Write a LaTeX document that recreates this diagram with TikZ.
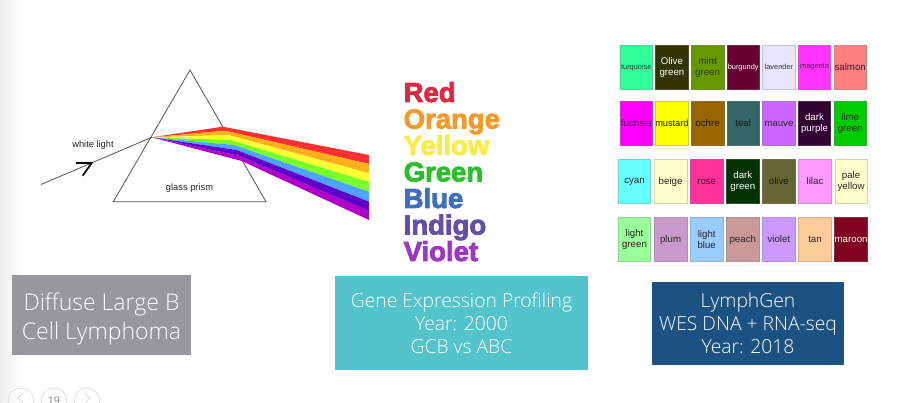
\documentclass[tikz,border=0pt]{standalone}
\usepackage{fontspec}
\setmainfont{Liberation Sans}
\newfontfamily\boxfont{Open Sans Light}
\newfontfamily\headfont[FakeBold=3]{Liberation Sans Bold}
\usetikzlibrary{calc}
\definecolor{gGray}{HTML}{98979B}
\definecolor{gTeal}{HTML}{53C4CC}
\definecolor{gBlue}{HTML}{1C5282}
\definecolor{pageLine}{HTML}{DDDDDD}
\tikzset{
  swatch/.style={line width=0.7pt,minimum width=32.5pt,minimum height=44.5pt,inner sep=0pt,align=center,text=#1,font=\fontsize{9.7}{11.2}\selectfont},
  swatch/.default=black!85,
  tiny/.style={font=\fontsize{7.4}{9}\selectfont},
  infobox/.style={inner sep=0pt,text=white,align=center,font=\boxfont\fontsize{19.3}{23}\selectfont},
  rainbow/.style={font=\headfont\fontsize{27.5}{27}\selectfont,anchor=base west,inner sep=0pt},
  prismline/.style={draw=black!70,line width=0.75pt},
  pager/.style={circle,draw=pageLine,line width=0.8pt,minimum size=26pt,inner sep=0pt},
  lab/.style={inner sep=0pt,font=\fontsize{9.3}{11}\selectfont,text=black!85},
  faint/.style={draw=black!6,line width=1pt}
}
\begin{document}
\begin{tikzpicture}[x=1pt,y=-1pt]
\useasboundingbox (0,0) rectangle (902,403);
\clip (0,0) rectangle (902,403);
\fill[white] (0,0) rectangle (902,403);
\shade[left color=black!7,right color=white] (0,0) rectangle (22,403);
% faint edges of the pasted grid images
\coordinate (fa) at (619,149);\coordinate (fb) at (869,149);
\coordinate (fc) at (870,154);\coordinate (fd) at (870,265);\coordinate (fe) at (618,265.5);
\draw[faint] (fa) -- (fb);
\draw[faint] (fc) -- (fd) -- (fe);
% prism
\coordinate (apex) at (190,70);
\coordinate (bl) at (113.3,201.7);
\coordinate (br) at (266,201.7);
\coordinate (entry) at (151.7,137.3);
\coordinate (raystart) at (41,184.5);
\draw[prismline] (bl) -- (apex) -- (br) -- cycle;
\draw[prismline] (raystart) -- (entry);
\coordinate (tipA) at (76,163);
\coordinate (tipB) at (91.7,163);
\coordinate (tipC) at (82.7,175.7);
\draw[black,line width=1.7pt] (tipA) -- (tipB) -- (tipC);
\foreach \c/\ax/\ay/\bx/\by/\cy/\dy in {
 FF3030/222.7/126.7/225/130.7/155/164,
 FFB01A/225/130.7/228.3/135/164/173.3,
 FFFF33/228.3/135/231/140/173.3/182,
 77FF2A/231/140/234/145/182/191.7,
 4DA3FF/234/145/236.7/150/191.7/201.7,
 5F00C8/236.7/150/239/155.7/201.7/211,
 B000C8/239/155.7/241.7/161/211/220}{
  \definecolor{tmpc}{HTML}{\c}
  \fill[tmpc] (entry) -- (\ax,\ay) -- (369,\cy) -- (369,\dy) -- (\bx,\by) -- cycle;
}
\node[lab] (wl) at (93,145.5) {white light};
\node[lab] (gp) at (189.5,188.5) {glass prism};
% rainbow words
\definecolor{rR}{HTML}{D92B42}\definecolor{rO}{HTML}{F39A2C}\definecolor{rY}{HTML}{FBEB4A}
\definecolor{rG}{HTML}{2DBE2D}\definecolor{rB}{HTML}{3F70BE}\definecolor{rI}{HTML}{6250A8}\definecolor{rV}{HTML}{9E38BE}
\node[rainbow,text=rR] (w1) at (403.5,102) {Red};
\node[rainbow,text=rO] (w2) at (403.5,128.5) {Orange};
\node[rainbow,text=rY] (w3) at (403.5,155) {Yellow};
\node[rainbow,text=rG] (w4) at (403.5,181.5) {Green};
\node[rainbow,text=rB] (w5) at (403.5,208) {Blue};
\node[rainbow,text=rI] (w6) at (403.5,234.5) {Indigo};
\node[rainbow,text=rV] (w7) at (403.5,261) {Violet};
% swatches
\newcommand{\sw}[6]{\definecolor{tmps}{HTML}{#4}\node[swatch=#5,fill=tmps,draw=tmps!65!gray,#6] (#1) at (#2,#3) {#1};}
\newcommand{\swl}[7]{\definecolor{tmps}{HTML}{#4}\node[swatch=#5,fill=tmps,draw=tmps!65!gray,#6] (#1) at (#2,#3) {#7};}
\def\ra{67.2}\def\rb{123.5}
\sw{turquoise}{636.3}{\ra}{33FF99}{black!80}{tiny}
\swl{olivegreen}{671.9}{\ra}{333300}{white}{}{Olive\\green}
\swl{mintgreen}{707.6}{\ra}{669900}{black!80}{}{mint\\green}
\sw{burgundy}{743.2}{\ra}{660033}{white}{tiny}
\sw{lavender}{778.9}{\ra}{E6E6FF}{black!80}{tiny}
\sw{magenta}{814.5}{\ra}{FF33FF}{black!80}{tiny}
\sw{salmon}{850.2}{\ra}{FF8080}{black!85}{}
\sw{fuchsia}{636.3}{\rb}{FF00FF}{black!85}{}
\sw{mustard}{671.9}{\rb}{FFFF00}{black!85}{font=\fontsize{9.2}{11}\selectfont}
\sw{ochre}{707.6}{\rb}{996600}{black!90}{}
\sw{teal}{743.2}{\rb}{336666}{black!90}{}
\sw{mauve}{778.9}{\rb}{CC66FF}{black!85}{}
\swl{darkpurple}{814.5}{\rb}{330033}{white}{}{dark\\purple}
\swl{limegreen}{850.2}{\rb}{00CC00}{black!80}{}{lime\\green}
\def\rc{181.5}\def\rd{239.5}
\sw{cyan}{634.5}{\rc}{66FFFF}{black!85}{}
\sw{beige}{670.6}{\rc}{FFFFCC}{black!85}{}
\sw{rose}{706.7}{\rc}{FF3399}{black!85}{}
\swl{darkgreen}{742.8}{\rc}{003300}{white}{}{dark\\green}
\sw{olive}{778.9}{\rc}{666633}{black!90}{}
\sw{lilac}{815}{\rc}{FF99FF}{black!85}{}
\swl{paleyellow}{851.1}{\rc}{FFFFCC}{black!85}{}{pale\\yellow}
\swl{lightgreen}{634.5}{\rd}{99FF99}{black!85}{}{light\\green}
\sw{plum}{670.6}{\rd}{CC99CC}{black!85}{}
\swl{lightblue}{706.7}{\rd}{99CCFF}{black!85}{}{light\\blue}
\sw{peach}{742.8}{\rd}{CC9999}{black!85}{}
\sw{violet}{778.9}{\rd}{CC99FF}{black!85}{}
\sw{tan}{815}{\rd}{FFCC99}{black!85}{}
\sw{maroon}{851.1}{\rd}{800020}{white}{}
% info boxes
\node[infobox,fill=gGray,minimum width=179pt,minimum height=80pt] (dlbclbox) at (101.5,315) {};
\node[infobox,font=\boxfont\fontsize{23}{29}\selectfont] (dlbcl) at (101.5,318.5) {Diffuse Large B\\Cell Lymphoma};
\node[infobox,fill=gTeal,minimum width=253pt,minimum height=94pt] (gep) at (461.5,323) {Gene Expression Profiling\\Year: 2000\\GCB vs ABC};
\node[infobox,fill=gBlue,minimum width=192pt,minimum height=83pt] (lymph) at (748,323.5) {LymphGen\\WES DNA + RNA-seq\\Year: 2018};
% pager
\node[pager] (prev) at (21,401) {};
\node[pager] (page) at (54,401) {};
\node[pager] (next) at (87,401) {};
\node[inner sep=0pt,text=black!45,font=\fontsize{11}{13}\selectfont] (num) at (54,401) {19};
\coordinate (pa) at (23,393);\coordinate (pb) at (18,398);\coordinate (pc) at (23,403);
\draw[pageLine,line width=0.8pt] (pa) -- (pb) -- (pc);
\coordinate (na) at (85,393);\coordinate (nb) at (90,398);\coordinate (nc) at (85,403);
\draw[pageLine,line width=0.8pt] (na) -- (nb) -- (nc);
\end{tikzpicture}
\end{document}
